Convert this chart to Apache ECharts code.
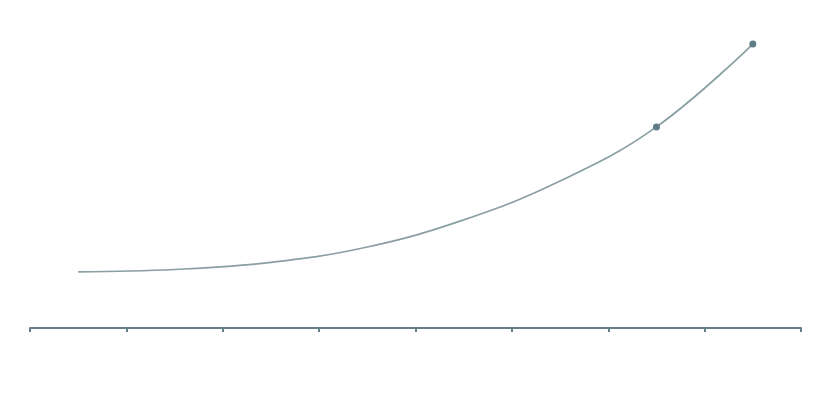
<!DOCTYPE html>
<html>
<head>
<meta charset="utf-8">
<script src="https://cdn.jsdelivr.net/npm/echarts@6/dist/echarts.min.js"></script>
<style>html,body{margin:0;padding:0;background:#fff;}#c{width:819px;height:396px;}</style>
</head>
<body>
<div id="c"></div>
<script>
const categories = ['1', '2', '3', '4', '5', '6', '7', '8'];
const values = [18.2, 19.0, 21.3, 26.3, 35.1, 47.7, 65.3, 92.2];
const markedIndexes = [6, 7];

const chart = echarts.init(document.getElementById('c'), null, {renderer: 'canvas'});
chart.setOption({
  animation: false,
  backgroundColor: '#ffffff',
  grid: {left: 30, right: 18, top: 20, bottom: 68},
  xAxis: {
    type: 'category',
    data: categories,
    boundaryGap: true,
    axisLine: {lineStyle: {color: '#657f86', width: 2}},
    axisTick: {show: true, length: 4, lineStyle: {color: '#657f86', width: 2}},
    axisLabel: {show: false},
    splitLine: {show: false}
  },
  yAxis: {
    type: 'value',
    min: 0,
    max: 100,
    show: false
  },
  series: [{
    type: 'line',
    smooth: 0.4,
    data: values.map((v, i) => ({
      value: v,
      symbol: markedIndexes.includes(i) ? 'circle' : 'none'
    })),
    symbolSize: 7,
    lineStyle: {color: '#8a9fa3', width: 1.7},
    itemStyle: {color: '#5f7d85'}
  }]
});
</script>
</body>
</html>
